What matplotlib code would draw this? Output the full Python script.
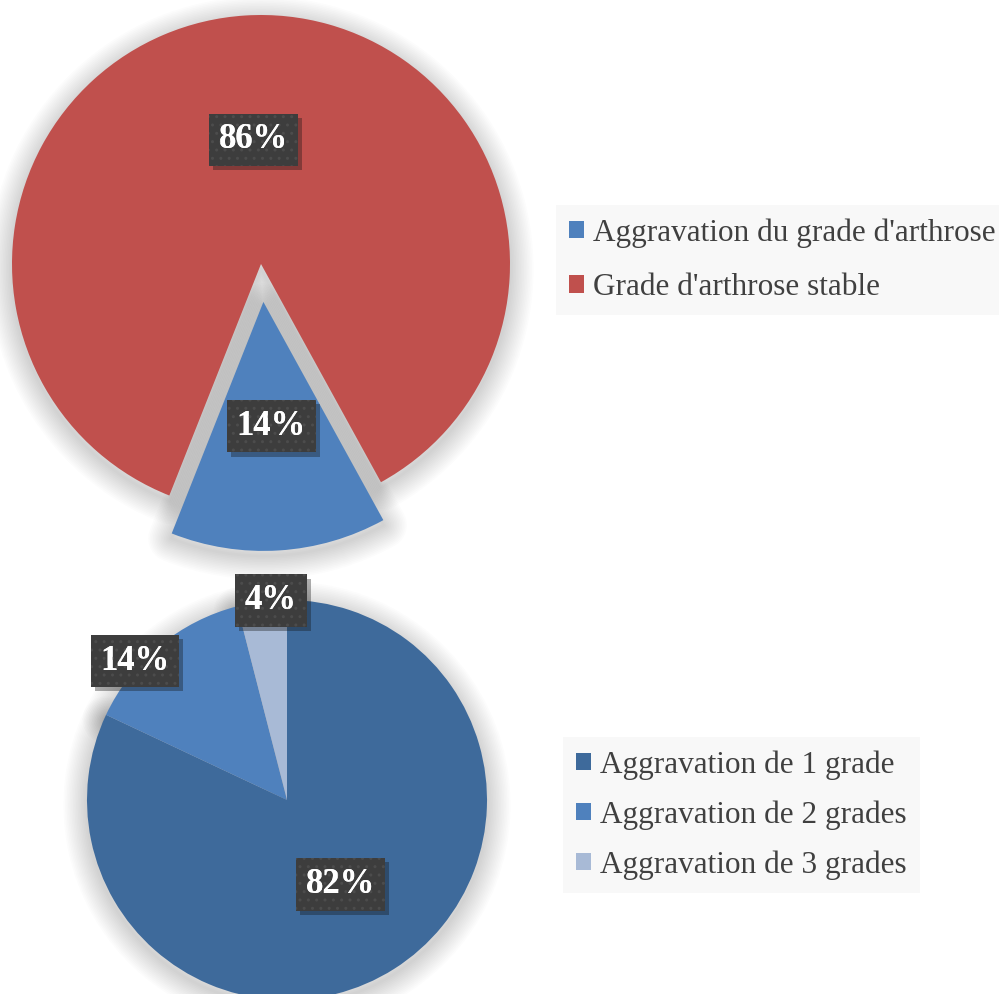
import numpy as np
import matplotlib.pyplot as plt
from matplotlib.patches import Wedge, Patch
import matplotlib.patheffects as pe

# evolution of the arthrosis grade
evol_labels = ["Aggravation du grade d'arthrose", "Grade d'arthrose stable"]
evol_values = [14, 86]
evol_colors = ['#4F81BD', '#C0504D']

# number of grades gained
grade_labels = ['Aggravation de 1 grade', 'Aggravation de 2 grades', 'Aggravation de 3 grades']
grade_values = [82, 14, 4]
grade_colors = ['#3E6A9B', '#4F81BD', '#A8BAD6']

W, H = 999, 994
serif = ['Liberation Serif', 'DejaVu Serif']
text_gray = '#404040'

fig = plt.figure(figsize=(W / 100, H / 100), dpi=100)
ax = fig.add_axes([0, 0, 1, 1])


def soft_shadow(ax, wedges, dy=-5):
    # fake a blurred drop shadow with many stacked translucent outlines
    for w in wedges:
        cx, cy = w.center
        for lw in np.linspace(2, 34, 15):
            ax.add_patch(Wedge((cx, cy + dy), w.r, w.theta1, w.theta2,
                               fc='none', ec='black', lw=lw, alpha=0.011,
                               joinstyle='round', zorder=0))


def pct_labels(ax, wedges, values, dist, nudge):
    for w, v, d, n in zip(wedges, values, dist, nudge):
        mid = np.deg2rad((w.theta1 + w.theta2) / 2 + n)
        x = w.center[0] + d * w.r * np.cos(mid)
        y = w.center[1] + d * w.r * np.sin(mid)
        kw = dict(ha='center', va='center', color='white', fontsize=25,
                  fontweight='bold', family=serif)
        # plain dark box with its drop shadow
        t = ax.text(x, y, f'{v}%', zorder=5,
                    bbox=dict(boxstyle='square,pad=0.28', fc='#3d3d3d', lw=0),
                    **kw)
        t.get_bbox_patch().set_path_effects(
            [pe.SimplePatchShadow(offset=(3, -3), alpha=0.35), pe.Normal()])
        # dotted texture on top, then the text again
        ax.text(x, y, f'{v}%', zorder=6,
                bbox=dict(boxstyle='square,pad=0.28', fc='none',
                          ec='#4c4c4c', lw=0, hatch='..'),
                **kw)


# top pie: stable vs worse, the small slice pulled out downwards
w1, _ = ax.pie(evol_values, colors=evol_colors, explode=[38, 0],
               startangle=248.4, counterclock=True, radius=249,
               center=(261, H - 264), wedgeprops=dict(linewidth=0))
soft_shadow(ax, w1)
pct_labels(ax, w1, evol_values, [0.5, 0.5], [0, 0])

# bottom pie: how many grades
w2, _ = ax.pie(grade_values, colors=grade_colors, startangle=90,
               counterclock=False, radius=200, center=(287, H - 800),
               wedgeprops=dict(linewidth=0))
soft_shadow(ax, w2)
pct_labels(ax, w2, grade_values, [0.5, 1.03, 1.0], [0, 8, -2.6])

ax.set_xlim(0, W)
ax.set_ylim(0, H)
ax.axis('off')

leg_kw = dict(loc='upper left', frameon=True, fancybox=False, framealpha=1,
              facecolor='#F8F8F8', edgecolor='none', labelcolor=text_gray,
              prop=dict(family=serif, size=22.5), handlelength=0.48,
              handleheight=0.48, handletextpad=0.28, borderaxespad=0,
              borderpad=0.42)

h1 = [Patch(fc=c, ec='none') for c in evol_colors]
fig.legend(h1, evol_labels, bbox_to_anchor=(556 / W, 1 - 205 / H),
           labelspacing=0.82, **leg_kw)

h2 = [Patch(fc=c, ec='none') for c in grade_colors]
fig.legend(h2, grade_labels, bbox_to_anchor=(563 / W, 1 - 737 / H),
           labelspacing=0.66, **leg_kw)

fig.savefig('out.png', dpi=100)
